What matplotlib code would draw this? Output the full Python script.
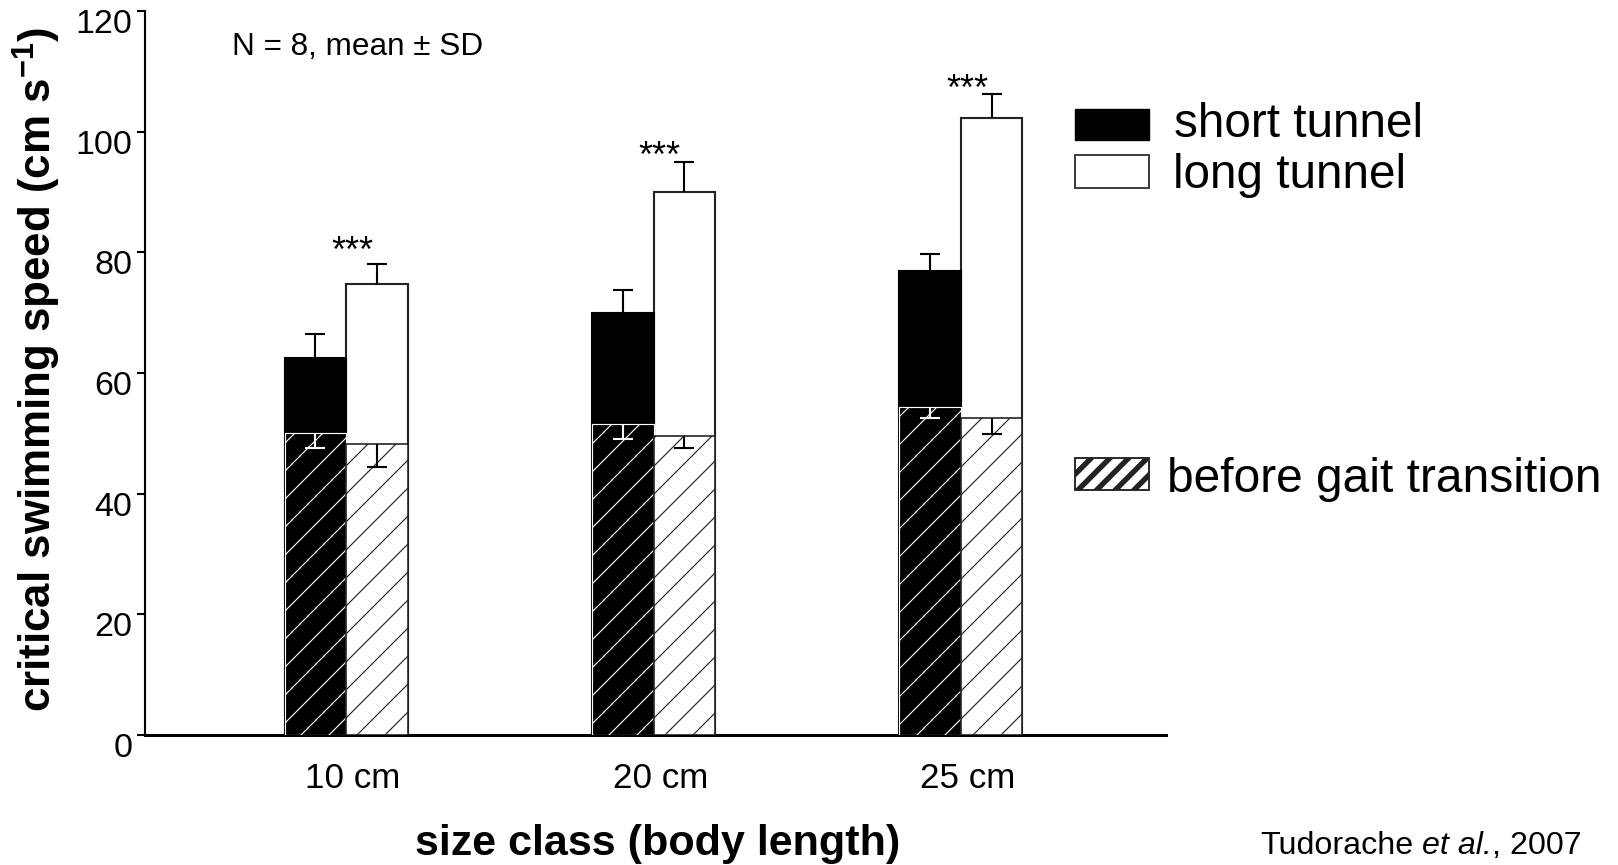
import matplotlib
matplotlib.use('Agg')
import matplotlib.pyplot as plt
import matplotlib.transforms as mtransforms
from matplotlib.patches import Rectangle
import numpy as np

# ---------------- data ----------------
sizes = ['10 cm', '20 cm', '25 cm']
short_mean = [62.5, 70.0, 76.9]
short_sd = [4.0, 3.7, 2.9]
long_mean = [74.7, 90.0, 102.2]
long_sd = [3.4, 4.9, 4.1]
short_before = [50.1, 51.5, 54.4]
short_before_sd = [2.6, 2.5, 1.9]
long_before = [48.2, 49.5, 52.6]
long_before_sd = [3.7, 1.9, 2.7]
sig_labels = ['***', '***', '***']
sig_y = [82.0, 97.8, 108.9]

# ---------------- figure geometry ----------------
W, H, DPI = 1618, 865, 168
plt.rcParams['font.family'] = ['Liberation Sans', 'DejaVu Sans']
plt.rcParams['mathtext.fontset'] = 'custom'
plt.rcParams['mathtext.rm'] = 'Liberation Sans'
plt.rcParams['mathtext.it'] = 'Liberation Sans:italic'
plt.rcParams['mathtext.bf'] = 'Liberation Sans:bold'
plt.rcParams['hatch.linewidth'] = 0.5

fig = plt.figure(figsize=(W / DPI, H / DPI), dpi=DPI)


def fx(px):
    return px / W


def fy(py):
    return (H - py) / H


ax = fig.add_axes([fx(145), fy(735), fx(1166) - fx(145), fy(11) - fy(735)])

x = np.arange(len(sizes))
bw = 0.2
xs = x - bw / 2
xl = x + bw / 2
zeros = np.zeros(len(sizes))

ax.bar(xl, long_mean, bw, color='white', edgecolor='#222222', linewidth=0.9, zorder=2)
ax.bar(xs, short_mean, bw, color='black', edgecolor='black', linewidth=0.9, zorder=2)

ax.bar(xs, short_before, bw, color='black', edgecolor='white', linewidth=0.5,
       hatch='//', zorder=3)
ax.bar(xl, long_before, bw, color='white', edgecolor='#222222', linewidth=0.7,
       hatch='//', zorder=3)

err_kw = dict(fmt='none', capsize=4.1, elinewidth=0.9, capthick=0.9, zorder=4)


def one_sided(xpos, mean, lower, upper, color):
    eb = ax.errorbar(xpos, mean, yerr=[lower, upper], ecolor=color, **err_kw)
    for cl in eb.lines[1]:
        if np.allclose(cl.get_ydata(), mean):
            cl.set_visible(False)


one_sided(xs, short_mean, zeros, short_sd, 'black')
one_sided(xl, long_mean, zeros, long_sd, 'black')
one_sided(xs, short_before, short_before_sd, zeros, 'white')
one_sided(xl, long_before, long_before_sd, zeros, 'black')

for xi, yi, s in zip(x, sig_y, sig_labels):
    ax.annotate(s, (xi + 0.02, yi), xytext=(0, -22), textcoords='offset pixels',
                ha='center', va='baseline', fontsize=15.5)

ax.set_xlim(-0.6537, 2.6667)
ax.set_ylim(0, 120)
ax.set_yticks(np.arange(0, 121, 20))
ax.tick_params(axis='y', length=3.4, width=0.9, pad=2.1, labelsize=14.6, direction='out')
offset = mtransforms.ScaledTranslation(0, -10 / DPI, fig.dpi_scale_trans)
for lbl in ax.get_yticklabels():
    lbl.set_transform(lbl.get_transform() + offset)

ax.set_xticks(x + 0.023)
ax.set_xticklabels(sizes)
ax.tick_params(axis='x', length=0, pad=11.4, labelsize=15)

for s in ('top', 'right'):
    ax.spines[s].set_visible(False)
ax.spines['left'].set_linewidth(0.9)
ax.spines['bottom'].set_linewidth(1.3)

# axis labels
fig.text(fx(37), fy(369.5), r'critical swimming speed (cm s$^{\mathbf{-1}}$)',
         rotation=90, ha='center', va='center', fontsize=18.8, fontweight='bold')
fig.text(fx(658), fy(855), 'size class (body length)', ha='center', va='baseline',
         fontsize=18.5, fontweight='bold')

fig.text(fx(232), fy(55), 'N = 8, mean \u00b1 SD', fontsize=13.5, va='baseline')

# citation with italic "et al."
cite_fs = 13.85
t1 = fig.text(fx(1260), fy(854), 'Tudorache', fontsize=cite_fs, va='baseline')
t2 = ax.annotate('et al.', xy=(1, 0), xycoords=t1, xytext=(9.0, 0),
                 textcoords='offset pixels', fontsize=cite_fs, style='italic',
                 va='bottom', ha='left', annotation_clip=False)
ax.annotate(', 2007', xy=(1, 0), xycoords=t2, xytext=(0, 0),
            textcoords='offset pixels', fontsize=cite_fs, va='bottom', ha='left',
            annotation_clip=False)


# legend swatches
def swatch(x0, y0, x1, y1, hatch_lw=None, **kw):
    if hatch_lw is not None:
        with plt.rc_context({'hatch.linewidth': hatch_lw}):
            r = Rectangle((fx(x0), fy(y1)), fx(x1) - fx(x0), fy(y0) - fy(y1),
                          transform=fig.transFigure, **kw)
            if hasattr(r, 'set_hatch_linewidth'):
                r.set_hatch_linewidth(hatch_lw)
    else:
        r = Rectangle((fx(x0), fy(y1)), fx(x1) - fx(x0), fy(y0) - fy(y1),
                      transform=fig.transFigure, **kw)
    fig.add_artist(r)


swatch(1075, 109, 1149, 140, facecolor='black', edgecolor='black', linewidth=0.6)
swatch(1075, 155, 1149, 188, facecolor='white', edgecolor='#333333', linewidth=0.8)
swatch(1075, 458, 1149, 490, hatch_lw=2.3, facecolor='white', edgecolor='#222222',
       linewidth=0.8, hatch='///')

fig.text(fx(1174), fy(137), 'short tunnel', fontsize=20.4, va='baseline')
fig.text(fx(1173), fy(188.5), 'long tunnel', fontsize=20.4, va='baseline')
fig.text(fx(1167), fy(491.5), 'before gait transition', fontsize=20.5, va='baseline')

fig.savefig('out.png', dpi=DPI)
